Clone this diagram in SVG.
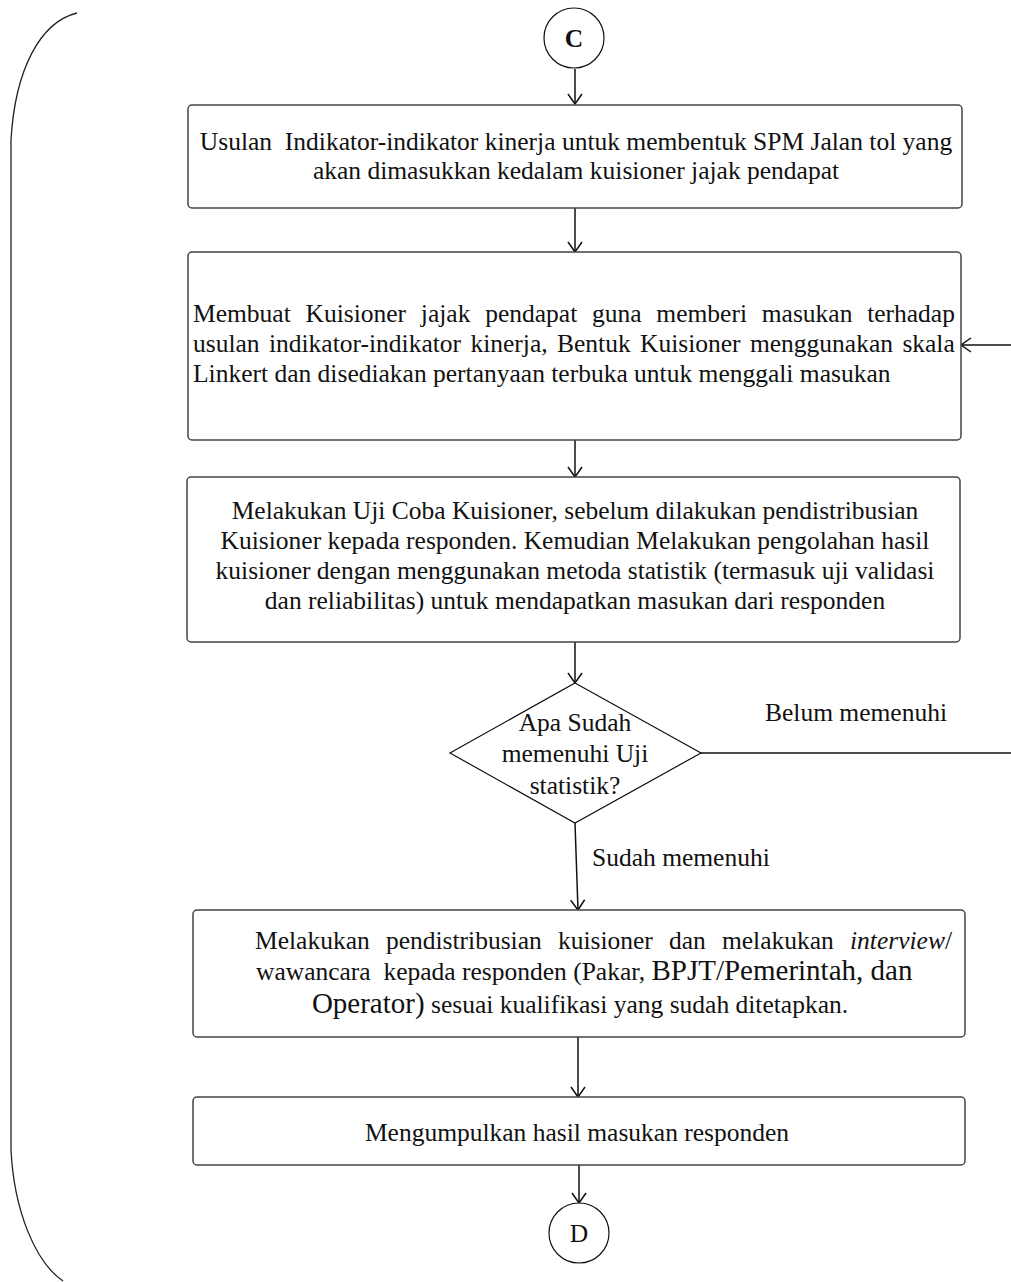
<svg xmlns="http://www.w3.org/2000/svg" width="1011" height="1282" viewBox="0 0 1011 1282">
  <defs>
    <style>
      .box { fill: #ffffff; stroke: #444444; stroke-width: 1.5; }
      .shape { fill: #ffffff; stroke: #111111; stroke-width: 1.2; }
      .line { fill: none; stroke: #111111; stroke-width: 1.5; }
      .brace { fill: none; stroke: #222222; stroke-width: 1.3; }
      text { font-family: "Liberation Serif", "Times New Roman", serif; font-size: 25.5px; fill: #111111; white-space: pre; }
      .c { text-anchor: middle; }
      .big { font-size: 29px; }
    </style>
    <marker id="arrow" viewBox="0 0 12 16" refX="11" refY="8" markerWidth="12" markerHeight="16" markerUnits="userSpaceOnUse" orient="auto">
      <path d="M1,1 L11,8 L1,15" fill="none" stroke="#111111" stroke-width="1.5"/>
    </marker>
  </defs>

  <rect width="1011" height="1282" fill="#ffffff"/>

  <!-- left bracket -->
  <path class="brace" d="M77,13 C40,22 15,70 11,140 L11,1150 C14,1210 35,1262 63,1281"/>

  <!-- connectors -->
  <g id="connectors">
    <line class="line" x1="575" y1="69" x2="575" y2="104" marker-end="url(#arrow)"/>
    <line class="line" x1="575" y1="208" x2="575" y2="252" marker-end="url(#arrow)"/>
    <line class="line" x1="575" y1="440" x2="575" y2="477" marker-end="url(#arrow)"/>
    <line class="line" x1="575" y1="642" x2="575" y2="683" marker-end="url(#arrow)"/>
    <line class="line" x1="701" y1="753" x2="1011" y2="753"/>
    <line class="line" x1="1011" y1="345" x2="961" y2="345" marker-end="url(#arrow)"/>
    <line class="line" x1="575" y1="823" x2="578" y2="910" marker-end="url(#arrow)"/>
    <line class="line" x1="578" y1="1037" x2="578" y2="1097" marker-end="url(#arrow)"/>
    <line class="line" x1="579" y1="1165" x2="579" y2="1203" marker-end="url(#arrow)"/>
    <text x="765" y="721">Belum memenuhi</text>
    <text x="592" y="866">Sudah memenuhi</text>
  </g>

  <g id="start-C">
    <circle class="shape" cx="574" cy="38" r="30"/>
    <text class="c" x="574" y="47" font-weight="bold">C</text>
  </g>

  <g id="step-usulan">
    <rect class="box" x="188" y="105" width="774" height="103" rx="4"/>
    <text class="c" x="576" y="150">Usulan  Indikator-indikator kinerja untuk membentuk SPM Jalan tol yang</text>
    <text class="c" x="576" y="179">akan dimasukkan kedalam kuisioner jajak pendapat</text>
  </g>

  <g id="step-kuisioner">
    <rect class="box" x="188" y="252" width="773" height="188" rx="4"/>
    <text x="193" y="322" word-spacing="8.4">Membuat Kuisioner jajak pendapat guna memberi masukan terhadap</text>
    <text x="193" y="352" word-spacing="3">usulan indikator-indikator kinerja, Bentuk Kuisioner menggunakan skala</text>
    <text x="193" y="382">Linkert dan disediakan pertanyaan terbuka untuk menggali masukan</text>
  </g>

  <g id="step-ujicoba">
    <rect class="box" x="187" y="477" width="773" height="165" rx="4"/>
    <text class="c" x="575" y="519">Melakukan Uji Coba Kuisioner, sebelum dilakukan pendistribusian</text>
    <text class="c" x="575" y="549">Kuisioner kepada responden. Kemudian Melakukan pengolahan hasil</text>
    <text class="c" x="575" y="579">kuisioner dengan menggunakan metoda statistik (termasuk uji validasi</text>
    <text class="c" x="575" y="609">dan reliabilitas) untuk mendapatkan masukan dari responden</text>
  </g>

  <g id="decision-uji">
    <polygon class="shape" points="575,683 701,753 575,823 450,753"/>
    <text class="c" x="575" y="731">Apa Sudah</text>
    <text class="c" x="575" y="762">memenuhi Uji</text>
    <text class="c" x="575" y="794">statistik?</text>
  </g>

  <g id="step-distribusi">
    <rect class="box" x="193" y="910" width="772" height="127" rx="4"/>
    <text x="255" y="949" word-spacing="9.8">Melakukan pendistribusian kuisioner dan melakukan <tspan font-style="italic">interview</tspan>/</text>
    <text x="256" y="980">wawancara  kepada responden (Pakar, <tspan class="big">BPJT/Pemerintah, dan</tspan></text>
    <text class="c" x="580" y="1013"><tspan class="big">Operator)</tspan> sesuai kualifikasi yang sudah ditetapkan.</text>
  </g>

  <g id="step-kumpul">
    <rect class="box" x="193" y="1097" width="772" height="68" rx="4"/>
    <text class="c" x="577" y="1141">Mengumpulkan hasil masukan responden</text>
  </g>

  <g id="end-D">
    <circle class="shape" cx="579" cy="1233" r="30"/>
    <text class="c" x="579" y="1242">D</text>
  </g>
</svg>
